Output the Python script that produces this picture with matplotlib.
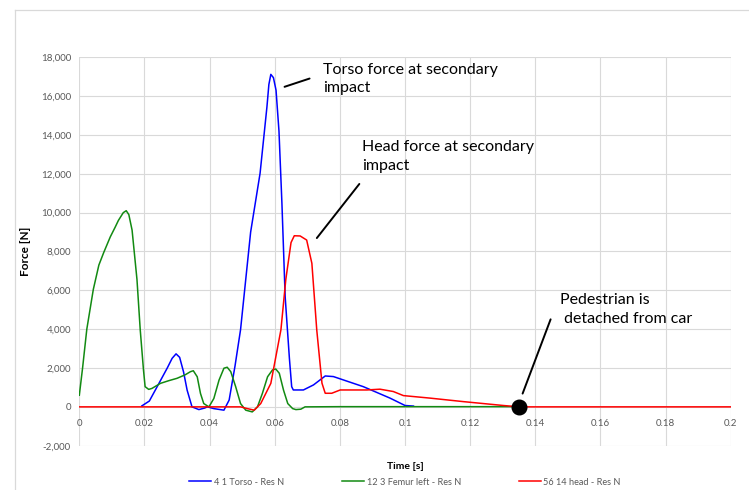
import matplotlib.pyplot as plt
from matplotlib.lines import Line2D

# Forces de contact (N) en fonction du temps (s)
t_torso = [0.0192, 0.0215, 0.0239, 0.027, 0.0285, 0.0297, 0.0308, 0.032, 0.0331, 0.0346,
           0.0367, 0.0385, 0.0393, 0.0413, 0.0444, 0.046, 0.0478, 0.0495, 0.0526, 0.0555,
           0.0576, 0.0582, 0.0588, 0.0596, 0.0604, 0.0613, 0.0622, 0.0632, 0.0645, 0.0652,
           0.0657, 0.0688, 0.0719, 0.0755, 0.078, 0.0872, 0.0954, 0.1, 0.1026]
f_torso = [50, 300, 1040, 2000, 2500, 2730, 2550, 1800, 860, 0,
           -140, -60, 0, -90, -170, 350, 2100, 3970, 9000, 12030,
           15440, 16600, 17120, 16950, 16300, 14200, 10500, 5670, 2500, 1040,
           870, 870, 1130, 1590, 1560, 1040, 450, 70, 40]

t_femur = [0, 0.001, 0.0023, 0.0043, 0.006, 0.0075, 0.0095, 0.011, 0.012, 0.0135, 0.0144,
           0.0152, 0.0162, 0.0177, 0.0187, 0.0197, 0.0202, 0.0213, 0.0223, 0.0249, 0.0275,
           0.03, 0.0325, 0.0341, 0.035, 0.0362, 0.0372, 0.0382, 0.0398, 0.0413, 0.0429,
           0.0444, 0.0454, 0.0465, 0.048, 0.0495, 0.0511, 0.0531, 0.0547, 0.0562, 0.0578,
           0.0593, 0.0603, 0.0614, 0.0627, 0.064, 0.0655, 0.0665, 0.068, 0.0693, 0.08, 0.135]
f_femur = [600, 2000, 4000, 6050, 7300, 7950, 8750, 9250, 9600, 10000, 10100,
           9900, 9100, 6560, 3970, 1900, 1040, 900, 950, 1210, 1350,
           1470, 1650, 1810, 1860, 1550, 690, 170, 0, 430, 1380,
           1990, 2040, 1810, 1040, 170, -170, -260, 0, 690, 1550,
           1900, 1950, 1730, 860, 170, -90, -140, -120, 0, 10, 10]

t_head = [0, 0.0495, 0.0516, 0.0537, 0.0557, 0.0588, 0.0619, 0.0634, 0.065, 0.066,
          0.0678, 0.0698, 0.0714, 0.0729, 0.0745, 0.0755, 0.0775, 0.0801, 0.0883, 0.0923,
          0.0964, 0.0995, 0.1077, 0.1179, 0.1302, 0.135, 0.2]
f_head = [0, 0, -90, -170, 170, 1210, 3970, 6560, 8460, 8810,
          8800, 8590, 7390, 3960, 1220, 700, 700, 870, 870, 910,
          790, 580, 450, 270, 70, 0, 0]

t_detach = 0.135

x_ticks = [0, 0.02, 0.04, 0.06, 0.08, 0.1, 0.12, 0.14, 0.16, 0.18, 0.2]
x_labels = ['0', '0.02', '0.04', '0.06', '0.08', '0.1', '0.12', '0.14', '0.16', '0.18', '0.2']
y_ticks = list(range(-2000, 18001, 2000))

gris = '#595959'
plt.rcParams['font.family'] = 'Lato'

fig = plt.figure(figsize=(7.49, 4.90), dpi=100)
ax = fig.add_axes([0.1059, 0.0904, 0.8697, 0.7927])

ax.plot(t_torso, f_torso, color='#0000ff', lw=1.1, label='4 1 Torso - Res N')
ax.plot(t_femur, f_femur, color='#128a12', lw=1.1, label='12 3 Femur left - Res N')
ax.plot(t_head, f_head, color='#ff0000', lw=1.1, label='56 14 head - Res N')
ax.plot([t_detach], [0], 'o', color='black', ms=10.5, zorder=5)

ax.set_xlim(0, 0.2)
ax.set_ylim(-2000, 18000)
ax.set_xticks(x_ticks)
ax.set_xticklabels(x_labels)
ax.set_yticks(y_ticks)
ax.set_yticklabels([f'{v:,}' for v in y_ticks])
ax.grid(True, color='#d9d9d9', lw=0.8)
ax.set_axisbelow(True)
for s in ax.spines.values():
    s.set_visible(False)
# l'axe des x croise à 0
ax.spines['bottom'].set_position(('data', 0))
ax.tick_params(length=0, labelsize=7, colors=gris)
ax.tick_params(axis='x', pad=9)
ax.tick_params(axis='y', pad=6)

ax.set_ylabel('Force [N]', fontsize=8.5, fontweight='bold', labelpad=7)
fig.text(0.5407, 1 - 466 / 490, 'Time [s]', fontsize=7.5, fontweight='bold',
         ha='center', va='center')

# Annotations
ligne = dict(arrowstyle='-', color='black', lw=1.4)
txt = dict(fontsize=11.5, va='top', ha='left', linespacing=1.38)
ax.annotate('', xy=(0.0622, 16435), xytext=(0.0715, 16950), arrowprops=ligne)
ax.text(0.0749, 17700, 'Torso force at secondary\nimpact', **txt)
ax.annotate('', xy=(0.0724, 8580), xytext=(0.0865, 11590), arrowprops=ligne)
ax.text(0.0867, 13720, 'Head force at secondary\nimpact', **txt)
ax.annotate('', xy=(0.1358, 550), xytext=(0.1450, 4640), arrowprops=ligne)
ax.text(0.1475, 5840, 'Pedestrian is\n detached from car', **txt)

fig.legend(loc='center', bbox_to_anchor=(0.5407, 1 - 482 / 490), ncol=3, frameon=False,
           fontsize=6.6, labelcolor=gris, handlelength=2.4, handletextpad=0.3,
           columnspacing=6.3)

# cadre du graphique
bord = '#d9d9d9'
fig.add_artist(Line2D([0.0194, 1], [0.9802, 0.9802], color=bord, lw=0.9))
fig.add_artist(Line2D([0.0194, 0.0194], [0, 0.9802], color=bord, lw=0.9))

fig.savefig('out.png', dpi=100)
